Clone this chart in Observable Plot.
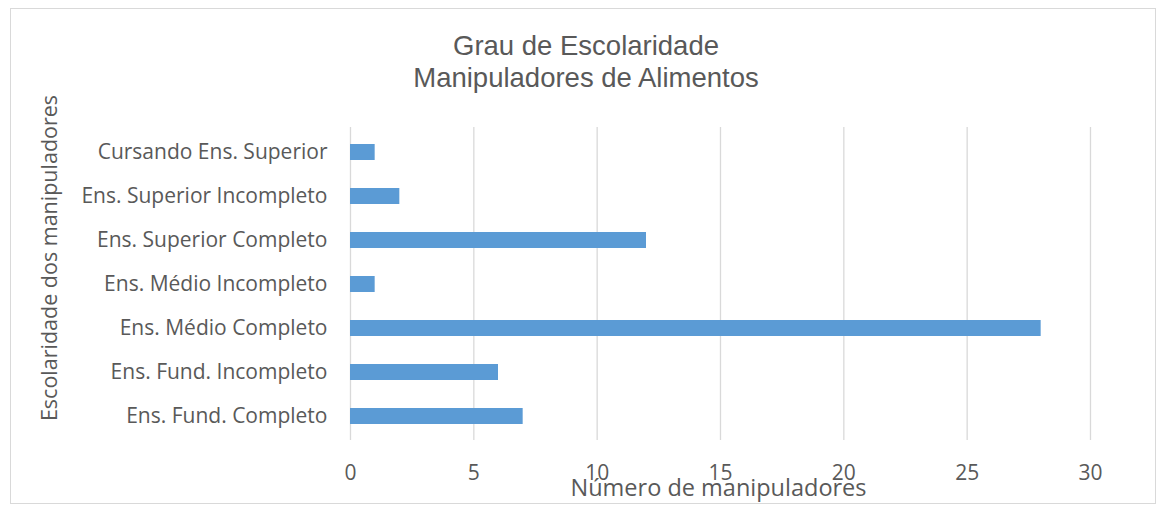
<!DOCTYPE html>
<html>
<head>
<meta charset="utf-8">
<script src="https://cdn.jsdelivr.net/npm/d3@7"></script>
<script src="https://cdn.jsdelivr.net/npm/@observablehq/plot@0.6"></script>
<style>
  html, body { margin: 0; padding: 0; background: #fff; }
  #page { position: relative; width: 1160px; height: 508px; overflow: hidden; }
  #frame { position: absolute; left: 10px; top: 8px; width: 1146px; height: 496px; border: 1.5px solid #d9d9d9; box-sizing: border-box; }
  #title { position: absolute; left: 0; top: 30px; width: 1172px; text-align: center;
           font-family: "Liberation Sans", Arial, sans-serif; font-size: 27.5px; line-height: 32px; color: #595959; }
  #chart { position: absolute; left: 0; top: 100px; }
</style>
</head>
<body>
<div id="page">
  <div id="frame"></div>
  <div id="title">Grau de Escolaridade<br>Manipuladores de Alimentos</div>
  <div id="chart"></div>
</div>
<script>
const categories = [
  "Cursando Ens. Superior",
  "Ens. Superior Incompleto",
  "Ens. Superior Completo",
  "Ens. Médio Incompleto",
  "Ens. Médio Completo",
  "Ens. Fund. Incompleto",
  "Ens. Fund. Completo"
];
const values = [1, 2, 12, 1, 28, 6, 7];
const xTicks = [0, 5, 10, 15, 20, 25, 30];
const xTitle = "Número de manipuladores";
const yTitle = "Escolaridade dos manipuladores";

const data = categories.map((c, i) => ({category: c, value: values[i]}));
const font = "'Open Sans', sans-serif";

const chart = Plot.plot({
  width: 1160,
  height: 400,
  marginLeft: 350,
  marginRight: 70,
  marginTop: 27,
  marginBottom: 60,
  style: {fontFamily: font, fontSize: "21px", color: "#595959", background: "transparent", overflow: "visible"},
  x: {domain: [0, 30]},
  y: {domain: categories, paddingInner: 0.64, paddingOuter: 0.32},
  marks: [
    Plot.gridX(xTicks, {stroke: "#d9d9d9", strokeOpacity: 1, strokeWidth: 1.3}),
    Plot.barX(data, {x: "value", y: "category", fill: "#5b9bd5"}),
    Plot.axisX({ticks: xTicks, tickSize: 0, tickPadding: 25, label: null, fill: "#595959", fontSize: 21}),
    Plot.axisY({tickSize: 0, tickPadding: 23, label: null, fill: "#595959", fontSize: 21}),
    Plot.text([xTitle], {frameAnchor: "bottom", dx: -2, dy: 55, fill: "#595959", fontSize: 23.5, fontFamily: font}),
    Plot.text([yTitle], {frameAnchor: "left", textAnchor: "middle", rotate: -90, dx: -300, dy: -26, fill: "#595959", fontSize: 21.5, fontFamily: font})
  ]
});
document.getElementById("chart").appendChild(chart);
</script>
</body>
</html>
